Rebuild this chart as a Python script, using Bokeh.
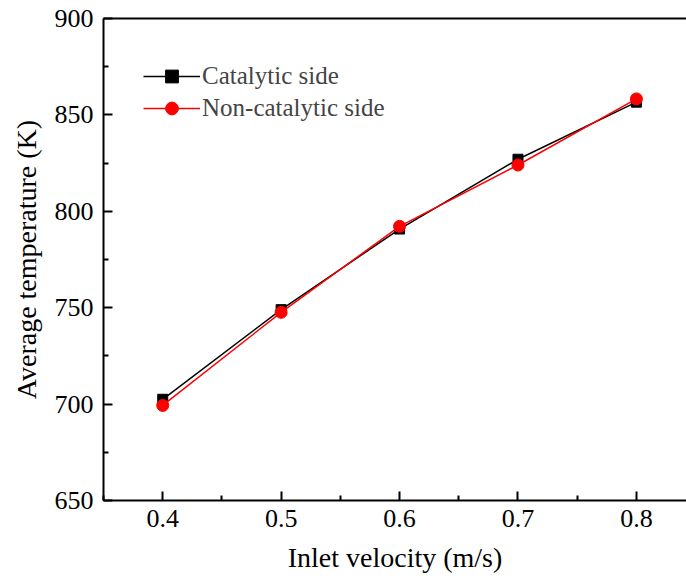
from bokeh.plotting import figure
from bokeh.models import Legend, LegendItem, LinearAxis, Range1d, FixedTicker
from bokeh.embed import file_html
from bokeh.resources import INLINE

velocity = [0.4, 0.5, 0.6, 0.7, 0.8]
catalytic = [702.5, 749.0, 790.8, 827.0, 856.6]
noncatalytic = [699.3, 747.6, 792.2, 824.0, 858.3]

FONT = "'Liberation Serif', 'Times New Roman', serif"

p = figure(width=686, height=584, output_backend="svg", toolbar_location=None,
           x_range=Range1d(0.35, 0.8423), y_range=Range1d(650, 900),
           min_border_left=103, min_border_right=0, min_border_top=18, min_border_bottom=84)
p.outline_line_color = None
p.grid.visible = False
p.background_fill_color = "white"

for ax in (p.xaxis[0], p.yaxis[0]):
    ax.axis_line_width = 2
    ax.axis_line_color = "black"
    ax.major_tick_in = 9
    ax.major_tick_out = 0
    ax.minor_tick_in = 5
    ax.minor_tick_out = 0
    ax.major_tick_line_width = 2
    ax.minor_tick_line_width = 2
    ax.major_label_text_font = FONT
    ax.major_label_text_font_size = "26px"
    ax.major_label_text_color = "black"
    ax.axis_label_text_font = FONT
    ax.axis_label_text_font_size = "28px"
    ax.axis_label_text_font_style = "normal"
    ax.axis_label_text_color = "black"

p.xaxis[0].ticker = FixedTicker(ticks=velocity, minor_ticks=[0.35, 0.45, 0.55, 0.65, 0.75])
p.yaxis[0].ticker = FixedTicker(ticks=[650, 700, 750, 800, 850, 900],
                                minor_ticks=[675, 725, 775, 825, 875])
p.xaxis.axis_label = "Inlet velocity (m/s)"
p.yaxis.axis_label = "Average temperature (K)"
p.xaxis.major_label_standoff = 9
p.yaxis.major_label_standoff = 10
p.xaxis.axis_label_standoff = 12
p.yaxis.axis_label_standoff = 10

top = LinearAxis(ticker=FixedTicker(ticks=[]), major_tick_line_color=None,
                 minor_tick_line_color=None, axis_line_width=2, axis_line_color="black")
p.add_layout(top, "above")

l1 = p.line(velocity, catalytic, line_color="black", line_width=1.5)
s1 = p.scatter(velocity, catalytic, marker="square", size=10, fill_color="black", line_color="black")
l2 = p.line(velocity, noncatalytic, line_color="red", line_width=1.5)
s2 = p.scatter(velocity, noncatalytic, marker="circle", size=12, fill_color="red", line_color="red")

legend = Legend(items=[LegendItem(label="Catalytic side", renderers=[l1, s1]),
                       LegendItem(label="Non-catalytic side", renderers=[l2, s2])],
                location=(40, 376), padding=0, margin=0, spacing=0,
                glyph_width=57, glyph_height=32, label_height=32, label_standoff=2,
                label_text_font=FONT, label_text_font_size="25px",
                border_line_color=None, background_fill_alpha=0)
p.add_layout(legend)

open("out.html", "w").write(file_html(p, INLINE))
